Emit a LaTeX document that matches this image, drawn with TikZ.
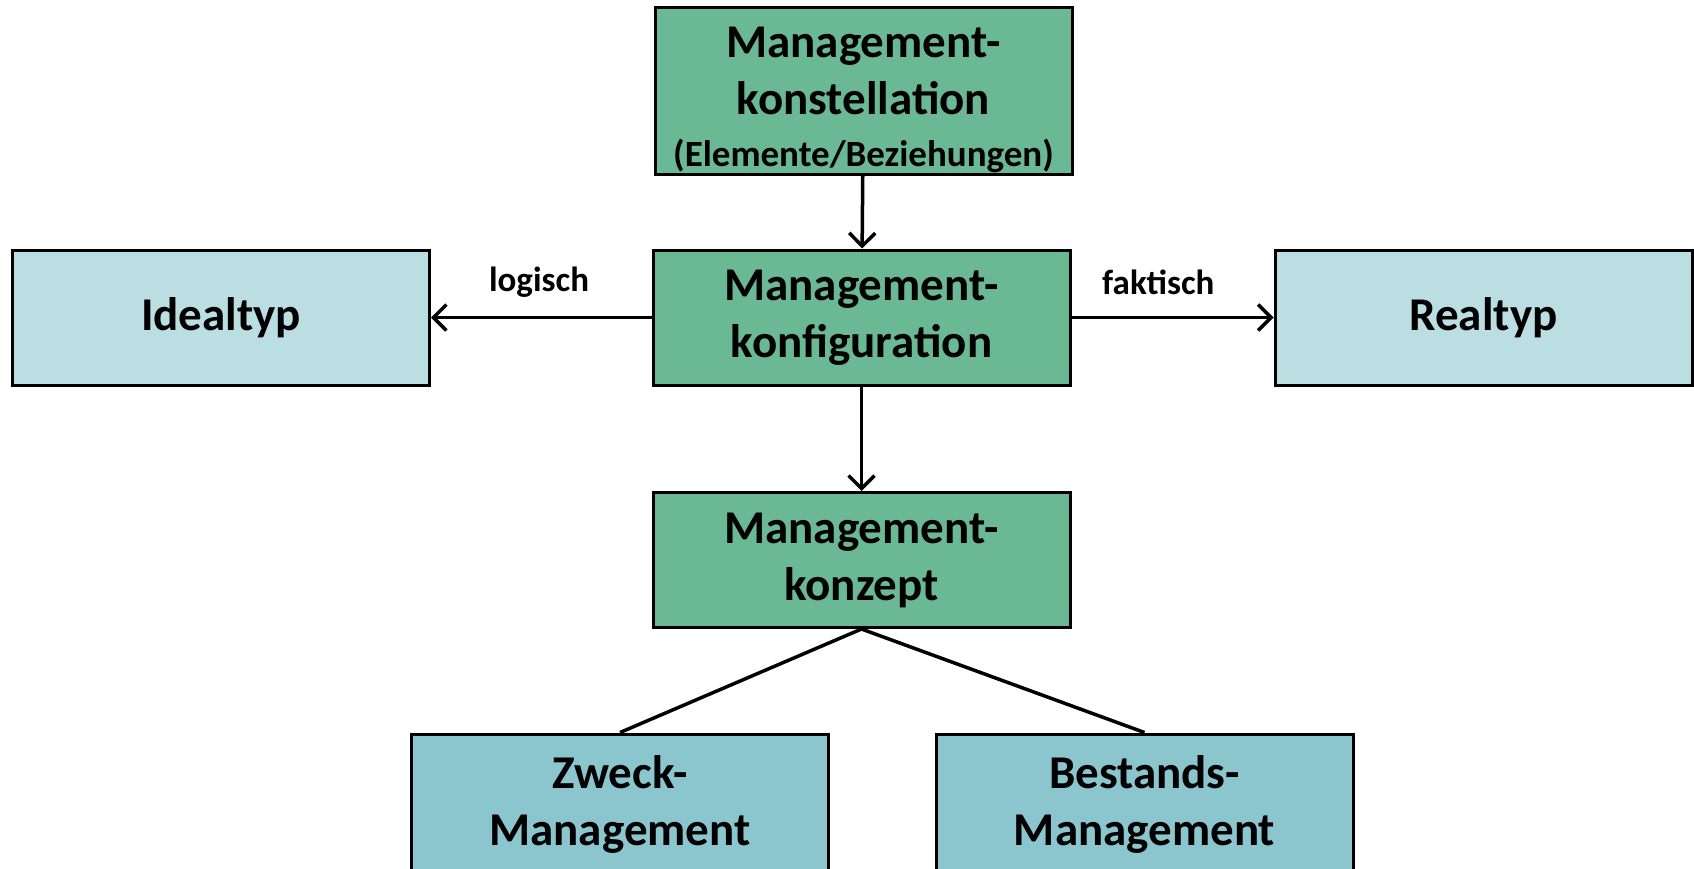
\documentclass[tikz,border=0pt]{standalone}
\usepackage{fontspec}
\setmainfont{Carlito}
\usetikzlibrary{arrows.meta}
\definecolor{boxgreen}{RGB}{107,184,149}
\definecolor{boxlight}{RGB}{187,222,226}
\definecolor{boxteal}{RGB}{139,198,206}
\tikzset{
  box/.style={draw=black, line width=3pt, minimum width=417pt, minimum height=135pt,
    align=center, inner sep=0pt, font=\bfseries\fontsize{47}{57}\selectfont},
  greenbox/.style={box, fill=boxgreen},
  lightbox/.style={box, fill=boxlight},
  tealbox/.style={box, fill=boxteal},
  conn/.style={line width=3.5pt, draw=black},
  arr/.style={conn, -{Straight Barb[length=13pt,width=26pt,line width=3.5pt]}},
  lbl/.style={font=\bfseries\fontsize{35}{40}\selectfont, inner sep=0pt}
}
\begin{document}
\begin{tikzpicture}[x=1pt,y=-1pt]
\useasboundingbox (0,0) rectangle (1694,868);
\clip (0,0) rectangle (1694,868);
\fill[white] (0,0) rectangle (1694,868);
\node[greenbox, minimum height=167pt] (konst) at (863.5,90.5) {};
\node[align=center, inner sep=0pt, font=\bfseries\fontsize{47}{57}\selectfont] (konsttext) at ([yshift=-9pt]konst.center)
  {Management-\\konstellation\\[-5pt]{\fontsize{37}{42}\selectfont (Elemente/Beziehungen)}};
\node[greenbox] (konf) at (861.5,317.5) {Management-\\konfiguration};
\node[lightbox] (ideal) at (221,317.5) {Idealtyp};
\node[lightbox] (real) at (1483.5,317.5) {Realtyp};
\node[greenbox] (konz) at (861.5,560) {Management-\\konzept};
\node[tealbox, minimum height=140pt] (zweck) at (620,804) {Zweck-\\Management};
\node[tealbox, minimum height=140pt] (bestand) at (1144.5,804) {Bestands-\\Management};
\draw[arr] (konst) -- (konf);
\draw[arr] (konf) -- (konz);
\draw[arr] (konf) -- node[lbl, pos=0.51, yshift=35pt] {logisch} (ideal);
\draw[arr] (konf) -- node[lbl, pos=0.43, yshift=35pt] {faktisch} (real);
\draw[conn] (konz.south) -- (zweck.north);
\draw[conn] (konz.south) -- (bestand.north);
\end{tikzpicture}
\end{document}
